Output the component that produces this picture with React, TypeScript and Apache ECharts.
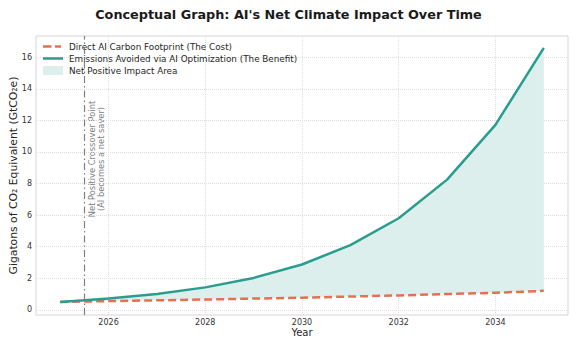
import React, { useEffect, useRef } from "react";
import * as echarts from "echarts";

const years = [2025, 2026, 2027, 2028, 2029, 2030, 2031, 2032, 2033, 2034, 2035];
const costValues = [0.5, 0.55, 0.6, 0.65, 0.71, 0.77, 0.84, 0.91, 1.0, 1.08, 1.2];
const benefitValues = [0.5, 0.71, 1.0, 1.42, 2.02, 2.87, 4.1, 5.8, 8.25, 11.72, 16.6];
const xTicks = [2026, 2028, 2030, 2032, 2034];
const yTicks = [0, 2, 4, 6, 8, 10, 12, 14, 16];
const crossoverYear = 2025.5;

const COST_NAME = "Direct AI Carbon Footprint (The Cost)";
const BENEFIT_NAME = "Emissions Avoided via AI Optimization (The Benefit)";
const AREA_NAME = "Net Positive Impact Area";

const FONT = "DejaVu Sans";
const ORANGE = "#e76f51";
const TEAL = "#2a9d8f";
const FILL = "#dcefec";

export default function App() {
  const ref = useRef<HTMLDivElement>(null);
  useEffect(() => {
    if (!ref.current) return;
    const chart = echarts.init(ref.current, null, { renderer: "svg" });
    const costData = years.map((y, i) => [y, costValues[i]]);
    const benefitData = years.map((y, i) => [y, benefitValues[i]]);
    chart.setOption({
      animation: false,
      backgroundColor: "#ffffff",
      textStyle: { fontFamily: FONT },
      title: {
        text: "Conceptual Graph: AI's Net Climate Impact Over Time",
        left: "center",
        top: 3,
        textStyle: { fontFamily: FONT, fontSize: 12.8, fontWeight: "bold", color: "#1a1a1a" },
      },
      grid: {
        left: 36,
        right: 9,
        top: 36,
        bottom: 31,
        containLabel: false,
        outerBoundsMode: "none",
        show: true,
        borderColor: "#d9d4de",
        borderWidth: 1,
      },
      legend: {
        orient: "vertical",
        left: 38,
        top: 37,
        itemWidth: 20,
        itemHeight: 10,
        itemGap: 3,
        symbolKeepAspect: true,
        textStyle: { fontFamily: FONT, fontSize: 8.8, color: "#262626", padding: [0, 0, 0, 1] },
        data: [
          { name: COST_NAME, icon: "path://M0,0H8.5V2.5H0Z M12,0H18V2.5H12Z M19.9,0H20V2.5H19.9Z" },
          { name: BENEFIT_NAME, icon: "path://M0,0H20V2.5H0Z" },
          { name: AREA_NAME, icon: "path://M0,0H20V9H0Z", itemStyle: { color: FILL } },
        ],
      },
      xAxis: {
        type: "value",
        min: 2024.5,
        max: 2035.5,
        name: "Year",
        nameLocation: "middle",
        nameGap: 12,
        nameMoveOverlap: false,
        nameTextStyle: { fontFamily: FONT, fontSize: 10, color: "#262626", verticalAlign: "top" },
        axisLine: { show: false },
        axisTick: { show: false, customValues: xTicks },
        axisLabel: {
          customValues: xTicks,
          formatter: (v: number) => String(v),
          fontFamily: FONT,
          fontSize: 8,
          color: "#333",
          margin: 3,
        },
        splitLine: { show: true, lineStyle: { color: "#dddddd", type: "dotted", width: 1 } },
      },
      yAxis: {
        type: "value",
        min: -0.33,
        max: 17.35,
        name: "Gigatons of CO\u2082 Equivalent (GtCO\u2082e)",
        nameLocation: "middle",
        nameGap: 17,
        nameMoveOverlap: false,
        nameTextStyle: { fontFamily: FONT, fontSize: 10.8, color: "#262626" },
        axisLine: { show: false },
        axisTick: { show: false, customValues: yTicks },
        axisLabel: { customValues: yTicks, fontFamily: FONT, fontSize: 8, color: "#333", margin: 4 },
        splitLine: { show: true, lineStyle: { color: "#dddddd", type: "dotted", width: 1 } },
      },
      series: [
        {
          name: AREA_NAME,
          type: "custom",
          data: [[years[0], costValues[0]]],
          itemStyle: { color: FILL },
          z: 1,
          silent: true,
          renderItem: (_params: any, api: any) => {
            const top = years.map((y, i) => api.coord([y, benefitValues[i]]));
            const bottom = years.map((y, i) => api.coord([y, costValues[i]])).reverse();
            return {
              type: "polygon",
              shape: { points: top.concat(bottom) },
              style: { fill: FILL },
            };
          },
        },
        {
          name: COST_NAME,
          type: "line",
          data: costData,
          symbol: "none",
          itemStyle: { color: ORANGE },
          lineStyle: { color: ORANGE, width: 2.5, type: [8, 4] },
          z: 3,
          markLine: {
            silent: true,
            symbol: "none",
            label: { show: false },
            lineStyle: { color: "#808080", width: 1.2, type: [7, 3, 1.5, 3] },
            data: [{ xAxis: crossoverYear }],
          },
        },
        {
          name: BENEFIT_NAME,
          type: "line",
          data: benefitData,
          symbol: "none",
          itemStyle: { color: TEAL },
          lineStyle: { color: TEAL, width: 2.5 },
          z: 4,
        },
      ],
      graphic: [
        {
          type: "text",
          x: 96.5,
          y: 159,
          rotation: Math.PI / 2,
          style: {
            text: "Net Positive Crossover Point\n(AI becomes a net saver)",
            fontFamily: FONT,
            fontSize: 8.3,
            lineHeight: 9,
            fill: "#808080",
            align: "center",
            verticalAlign: "middle",
          },
        },
      ],
    });
    return () => chart.dispose();
  }, []);
  return (
    <div
      ref={ref}
      style={{ position: "fixed", left: 0, top: 0, width: 577, height: 346 }}
    />
  );
}
